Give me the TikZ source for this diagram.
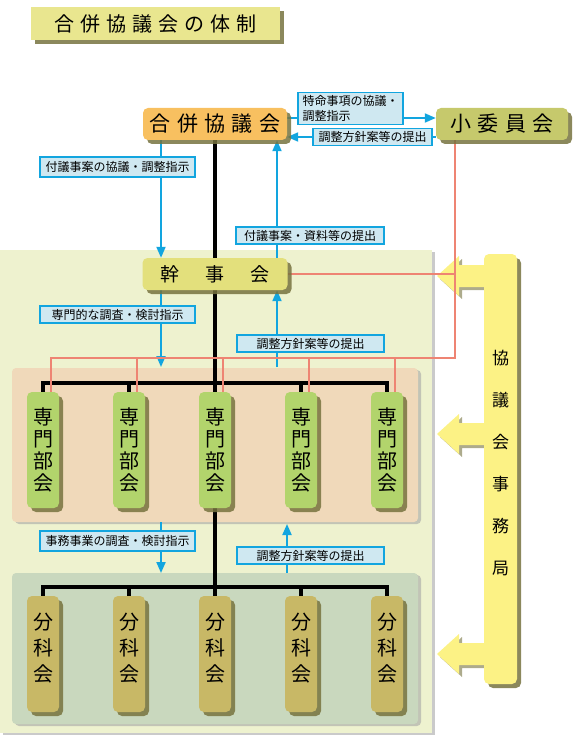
\documentclass[tikz,border=0pt]{standalone}
\usepackage{fontspec}
\setmainfont{Noto Sans CJK JP}
\newfontfamily\spacedjp[LetterSpace=30]{Noto Sans CJK JP}
\usetikzlibrary{arrows.meta, shadows, positioning}
\pgfdeclarelayer{panel}
\pgfdeclarelayer{link}
\pgfsetlayers{panel,link,main}

\definecolor{titlefill}{HTML}{E9E68F}
\definecolor{gappeifill}{HTML}{F8C060}
\definecolor{shoiinfill}{HTML}{C6C96C}
\definecolor{kanjifill}{HTML}{E3E07C}
\definecolor{senmonfill}{HTML}{B2D46C}
\definecolor{bunkafill}{HTML}{C8B866}
\definecolor{jimufill}{HTML}{FCF285}
\definecolor{panelmain}{HTML}{EEF2CF}
\definecolor{panelsenmon}{HTML}{F0D9BA}
\definecolor{panelbunka}{HTML}{C9D8BE}
\definecolor{flowc}{HTML}{12A5DF}
\definecolor{notefill}{HTML}{CFE8F1}
\definecolor{liaisonc}{HTML}{EE8473}
\definecolor{shade}{HTML}{77733F}

\begin{document}
\begin{tikzpicture}[x=1pt, y=-1pt,
  box/.style={rectangle, rounded corners=5pt, inner sep=0pt,
              drop shadow={shadow xshift=4pt, shadow yshift=-4pt, fill=shade, opacity=0.85}},
  head/.style={box, minimum width=144pt, minimum height=32pt,
               font=\fontsize{21}{21}\selectfont\spacedjp},
  tall/.style={box, minimum width=32pt, minimum height=116pt, align=center,
               font=\fontsize{20}{22}\selectfont},
  note/.style={rectangle, draw=flowc, line width=1.6pt, fill=notefill, inner sep=1pt,
               minimum height=17pt, font=\fontsize{12}{15}\selectfont},
  flowline/.style={draw=flowc, line width=2pt, -{Triangle[length=11pt, width=9pt]}},
  trunk/.style={draw=black, line width=3.5pt},
  liaison/.style={draw=liaisonc, line width=1.6pt},
  panelshadow/.style={drop shadow={shadow xshift=3pt, shadow yshift=-2pt, fill=black!35, opacity=0.6}}
]
\useasboundingbox (0,0) rectangle (575,738);

\begin{pgfonlayer}{panel}
\fill[panelmain, panelshadow] (0,250) rectangle (432,733);
\fill[panelsenmon, rounded corners=4pt, panelshadow] (12,368) rectangle (418,522);
\fill[panelbunka, rounded corners=4pt, panelshadow] (12,573) rectangle (418,724);
\end{pgfonlayer}

\node[box, rounded corners=0pt, fill=titlefill, minimum width=249pt, minimum height=33pt,
      font=\fontsize{20}{20}\selectfont\spacedjp] (title) at (155.5,23.5) {合併協議会の体制};

\node[head, fill=gappeifill] (gappei) at (215,124) {合併協議会};
\node[head, fill=shoiinfill, minimum width=132pt] (shoiin) at (502,124) {小委員会};
\node[head, fill=kanjifill, minimum width=145pt, font=\fontsize{19}{19}\selectfont]
      (kanji) at (215,274) {幹\hspace{26pt}事\hspace{26pt}会};

\foreach \i/\x in {1/43, 2/129, 3/215, 4/301, 5/387} {
  \node[tall, fill=senmonfill] (senmon\i) at (\x,450) {専\\門\\部\\会};
  \node[tall, fill=bunkafill, font=\fontsize{20}{26}\selectfont, text depth=14pt]
        (bunka\i) at (\x,654) {分\\科\\会};
}

\node[box, fill=jimufill, minimum width=33pt, minimum height=430pt, align=center,
      font=\fontsize{17}{42}\selectfont, text depth=13pt] (jimu) at (500.5,469) {協\\議\\会\\事\\務\\局};

\begin{pgfonlayer}{link}
\foreach \y in {276, 434, 654}
  \fill[jimufill, drop shadow={shadow xshift=3pt, shadow yshift=-3pt, fill=shade, opacity=0.6}]
    (437,\y) -- (459,\y-20) -- (459,\y-11) -- (486,\y-11) -- (486,\y+11)
    -- (459,\y+11) -- (459,\y+20) -- cycle;

\draw[trunk] (gappei.south) -- (bunka3.north);
\coordinate (sbar) at (215,383);
\coordinate (bbar) at (215,587);
\draw[trunk] (senmon1.north) -- (senmon1.north |- sbar) -- (senmon5.north |- sbar) -- (senmon5.north);
\draw[trunk] (bunka1.north) -- (bunka1.north |- bbar) -- (bunka5.north |- bbar) -- (bunka5.north);
\foreach \i in {2,4} {
  \draw[trunk] (senmon\i.north) -- (senmon\i.north |- sbar);
  \draw[trunk] (bunka\i.north) -- (bunka\i.north |- bbar);
}

\draw[flowline] ([yshift=6pt]gappei.east) -- ([yshift=6pt]shoiin.west);
\draw[flowline] ([yshift=-13pt]shoiin.west) -- ([yshift=-13pt]gappei.east);
\draw[flowline] ([xshift=-54pt]gappei.south) -- ([xshift=-54pt]kanji.north);
\draw[flowline] ([xshift=62pt]kanji.north) -- ([xshift=62pt]gappei.south);

\coordinate (sdown) at (161,367);
\coordinate (sup) at (277,367);
\draw[flowline] ([xshift=-54pt]kanji.south) -- (sdown);
\draw[flowline] (sup) -- ([xshift=62pt]kanji.south);

\coordinate (bdownA) at (161,522);
\coordinate (bdownB) at (161,573);
\coordinate (bupA) at (287,573);
\coordinate (bupB) at (287,524);
\draw[flowline] (bdownA) -- (bdownB);
\draw[flowline] (bupA) -- (bupB);

\coordinate (lk) at (455,358);
\draw[liaison] ([xshift=-47pt]shoiin.south) -- (lk) -- ([xshift=8pt]senmon1.north |- lk) -- ([xshift=8pt]senmon1.north);
\foreach \i in {2,...,5}
  \draw[liaison] ([xshift=8pt]senmon\i.north |- lk) -- ([xshift=8pt]senmon\i.north);
\draw[liaison] (kanji.east) -- (kanji.east -| lk);
\end{pgfonlayer}

\node[note, minimum width=105pt, minimum height=32pt, align=left] (tokumei) at (350.5,108.5) {特命事項の協議・\\調整指示};
\node[note, minimum width=119pt] (teishutsuA) at (372.5,137) {調整方針案等の提出};
\node[note, minimum width=155pt, minimum height=20pt] (fugiA) at (117.5,167) {付議事案の協議・調整指示};
\node[note, minimum width=148pt] (fugiB) at (310,235.5) {付議事案・資料等の提出};
\node[note, minimum width=155pt] (senmonshiji) at (117.5,314.5) {専門的な調査・検討指示};
\node[note, minimum width=147pt] (teishutsuB) at (310.5,343.5) {調整方針案等の提出};
\node[note, minimum width=155pt, minimum height=20pt] (jimushiji) at (117.5,541) {事務事業の調査・検討指示};
\node[note, minimum width=147pt] (teishutsuC) at (310.5,555.5) {調整方針案等の提出};
\end{tikzpicture}
\end{document}
